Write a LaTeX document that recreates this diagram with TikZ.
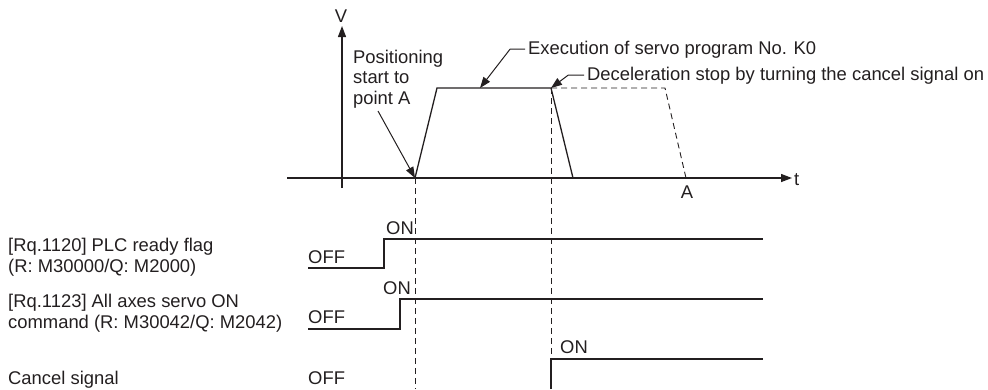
\documentclass[tikz,border=0pt]{standalone}
\usepackage{fontspec}
\setmainfont{Liberation Sans}
\usetikzlibrary{arrows.meta}
\definecolor{ink}{HTML}{231F20}
\begin{document}
\begin{tikzpicture}[x=1pt,y=-1pt,
  every node/.style={font=\fontsize{18.4}{20.5}\selectfont, text=ink, inner sep=0pt},
  line/.style={draw=ink, line width=1.3pt},
  leader/.style={draw=ink, line width=1pt},
  guide/.style={draw=ink, line width=0.9pt, dash pattern=on 6pt off 4pt},
  tip/.style={-{Triangle[length=11pt,width=8pt]}},
  lbl/.style={anchor=base west, align=left}]
\useasboundingbox (0,0) rectangle (988,389);

% axes
\coordinate (vbot) at (342,188);
\coordinate (vtop) at (342,26);
\coordinate (tleft) at (287,178);
\coordinate (tright) at (792,178);
\draw[line, tip] (vbot) -- (vtop);
\draw[line, tip] (tleft) -- (tright);
\node[anchor=base] (V) at (341,22) {V};
\node[anchor=base west] (t) at (794,185) {t};

% velocity profile
\coordinate (p0) at (415,178);
\coordinate (p1) at (437,88);
\coordinate (p2) at (551,88);
\coordinate (p3) at (573,178);
\coordinate (q1) at (665,88);
\coordinate (q2) at (686,178);
\draw[line, line join=miter] (p0) -- (p1) -- (p2) -- (p3);
\draw[guide] (p2) -- (q1) -- (q2);
\node[anchor=base] (A) at (687,198) {A};

% vertical timing guides
\coordinate (g1) at (415,389);
\coordinate (g2) at (551,389);
\draw[guide] (p0) -- (g1);
\draw[guide] (p2) -- (g2);

% annotations (multi-line nodes sit on the baseline of their last line)
\node[lbl] (pos) at (353,104) {Positioning\\start to\\point A};
\coordinate (posTail) at (378,111);
\draw[leader, tip] (posTail) -- (p0);

\coordinate (execTip) at (480,88);
\node[lbl, inner xsep=3pt] (exec) at (525,54) {Execution of servo program No. K0};
\draw[leader, tip] (exec.west) -- ++(-15,0) -- (execTip);

\node[lbl, inner xsep=3pt] (dec) at (584,80) {Deceleration stop by turning the cancel signal on};
\draw[leader, tip] (dec.west) -- ++(-16,0) -- (p2);

% signal names
\node[lbl] (s1) at (8,272) {[Rq.1120] PLC ready flag\\(R: M30000/Q: M2000)};
\node[lbl] (s2) at (8,328) {[Rq.1123] All axes servo ON\\command (R: M30042/Q: M2042)};
\node[lbl] (s3) at (8,384) {Cancel signal};

% PLC ready flag
\coordinate (r1a) at (308,268);
\coordinate (r1b) at (384,268);
\coordinate (r1c) at (384,239);
\coordinate (r1d) at (763,239);
\draw[line] (r1a) -- (r1b) -- (r1c) -- (r1d);
\node[lbl] (off1) at (308,263.5) {OFF};
\node[lbl] (on1) at (386,234) {ON};

% All axes servo ON
\coordinate (r2a) at (308,329);
\coordinate (r2b) at (400,329);
\coordinate (r2c) at (400,299);
\coordinate (r2d) at (763,299);
\draw[line] (r2a) -- (r2b) -- (r2c) -- (r2d);
\node[lbl] (off2) at (308,323) {OFF};
\node[lbl] (on2) at (383,294) {ON};

% Cancel signal
\coordinate (r3a) at (551,389);
\coordinate (r3b) at (551,359);
\coordinate (r3c) at (763,359);
\draw[line] (r3a) -- (r3b) -- (r3c);
\node[lbl] (off3) at (308,384) {OFF};
\node[lbl] (on3) at (560,353) {ON};
\end{tikzpicture}
\end{document}
